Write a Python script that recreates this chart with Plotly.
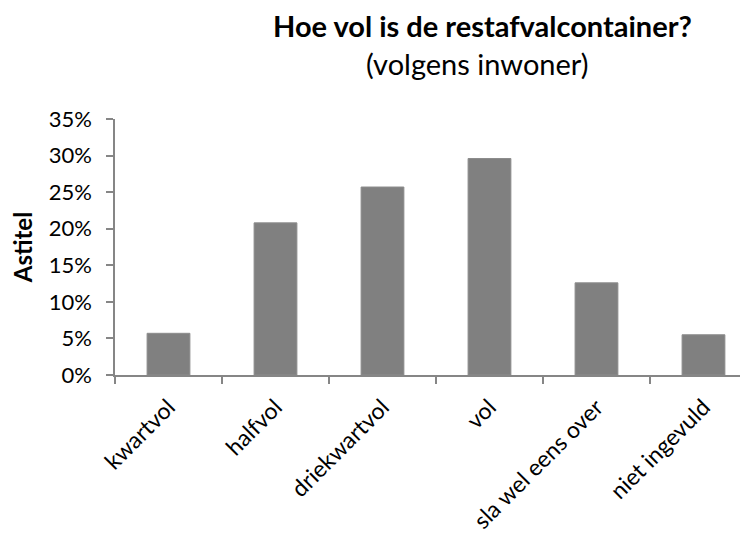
import plotly.graph_objects as go

categories = ["kwartvol", "halfvol", "driekwartvol", "vol", "sla wel eens over", "niet ingevuld"]
values = [0.057, 0.208, 0.257, 0.296, 0.126, 0.055]
y_ticks = [0, 0.05, 0.10, 0.15, 0.20, 0.25, 0.30, 0.35]

FONT = "Lato"
AXIS_COLOR = "#868686"

fig = go.Figure()
fig.add_trace(go.Bar(
    x=categories, y=values,
    marker=dict(color="#808080", line=dict(color="#8c8c8c", width=1)),
    width=0.4,
))

# the page body has an 8px default margin, so the figure is 8px smaller
fig.update_layout(
    width=740, height=528,
    margin=dict(l=107, r=0, t=111, b=161),
    plot_bgcolor="white", paper_bgcolor="white",
    showlegend=False,
    font=dict(family=FONT, size=22, color="black"),
    annotations=[
        dict(text="<b>Hoe vol is de restafvalcontainer?</b>", xref="paper", yref="paper",
             x=0.581, y=1.365, showarrow=False, xanchor="center", yanchor="middle",
             font=dict(family=FONT, size=29, color="black")),
        dict(text="(volgens inwoner)", xref="paper", yref="paper",
             x=0.573, y=1.215, showarrow=False, xanchor="center", yanchor="middle",
             font=dict(family=FONT, size=29, color="black")),
    ],
)

fig.update_xaxes(
    type="category", range=[-0.5, 5.416],
    showline=True, linecolor=AXIS_COLOR, linewidth=1.5,
    ticks="outside", tickson="boundaries", ticklen=7, tickcolor=AXIS_COLOR, tickwidth=1.5,
    tickangle=-45, showgrid=False, zeroline=False,
    tickfont=dict(family=FONT, size=23, color="black"),
    ticklabelstandoff=8,
)
fig.update_yaxes(
    range=[0, 0.35], tickvals=y_ticks, tickformat=".0%",
    showline=True, linecolor=AXIS_COLOR, linewidth=1.5,
    ticks="outside", ticklen=7, tickcolor=AXIS_COLOR, tickwidth=1.5,
    showgrid=False, zeroline=False,
    tickfont=dict(family=FONT, size=22, color="black"),
    ticklabelstandoff=10,
    title=dict(text="<b>Astitel</b>", font=dict(family=FONT, size=24, color="black"), standoff=12),
)

fig.write_html("out.html")
